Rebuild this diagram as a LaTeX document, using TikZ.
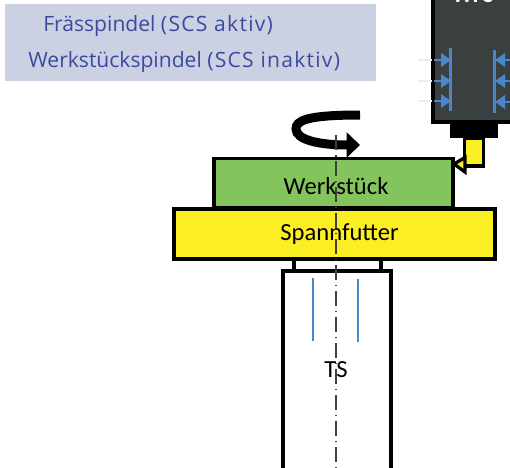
\documentclass[tikz,border=0pt]{standalone}
\usepackage{fontspec}
\setmainfont{Carlito}
\newfontfamily\panelfont{Open Sans}
\newfontfamily\panelwide[LetterSpace=6]{Open Sans}
\usepackage{xcolor}
\usetikzlibrary{calc,arrows.meta}
\definecolor{panelbg}{HTML}{CBD0E3}
\definecolor{paneltext}{HTML}{3B4A9E}
\definecolor{spindle}{HTML}{3A3F3F}
\definecolor{green}{HTML}{84C45C}
\definecolor{yellow}{HTML}{FBEE23}
\definecolor{blue}{HTML}{4A86CC}
\definecolor{faint}{HTML}{E8EFF8}
\tikzset{
  base/.style={draw=black, line width=0.066cm, line join=miter},
  axis/.style={draw=black!75, line width=0.045cm, dash pattern=on 0.3cm off 0.1cm on 0.03cm off 0.09cm},
  bearing/.style={draw=blue, line width=0.045cm},
  ghost/.style={draw=faint, line width=0.04cm},
  tri/.style={fill=blue},
  lab/.style={text=black, font=\fontsize{14}{17}\selectfont, inner sep=0pt},
  labp/.style={text=paneltext, font=\panelfont\fontsize{12}{14}\selectfont, inner sep=0pt, anchor=west},
}
\begin{document}
\begin{tikzpicture}[x=0.02cm,y=-0.02cm]
  \useasboundingbox (0,0) rectangle (510,467);
  \clip (0,0) rectangle (510,467);
  % panel
  \fill[panelbg] (5,4) rectangle (376,81);
  \node[labp] (frs) at (43,26.5) {Frässpindel {\panelwide (SCS aktiv)}};
  \node[labp] (wsp) at (28,62.5) {Werkstückspindel {\panelwide (SCS inaktiv)}};
  % spindle head
  \draw[base,fill=spindle] (433,-5) rectangle (515,122);
  \node[text=white, font=\fontsize{13}{16}\selectfont\bfseries, inner sep=0pt] (wfs) at (473,-5) {WFS};
  \foreach \y in {60,81,101}{
    \draw[ghost] (418,\y) -- (432,\y);
    \draw[bearing] (434,\y) -- (441,\y);
    \fill[tri] (451,\y) -- (441,\y-7) -- (441,\y+7) -- cycle;
  }
  \foreach \y in {60,81,102}{
    \draw[bearing] (505,\y) -- (510,\y);
    \fill[tri] (495,\y) -- (505,\y-7) -- (505,\y+7) -- cycle;
  }
  \draw[bearing] (450.5,48) -- (450.5,111);
  \draw[bearing] (494.5,50) -- (494.5,113);
  \fill[black] (450,121) rectangle (498,138);
  \draw[base,fill=yellow] (464.5,138) rectangle (483.5,166);
  % workpiece and chuck
  \draw[base,fill=green] (214,158.5) rectangle (453,208);
  \draw[base,fill=yellow] (454,164) -- (465,157.5) -- (465,172) -- cycle;
  \draw[base,fill=yellow] (174,209) rectangle (495,259);
  \draw[base,fill=white] (294,259) rectangle (381,270.5);
  \draw[base,fill=white] (283,271) rectangle (391,475);
  \draw[bearing] (313,278) -- (313,341);
  \draw[bearing] (358,279) -- (358,342);
  % rotation arrow
  \draw[line width=0.18cm, -{Triangle[length=0.27cm,width=0.5cm]}]
    (360,115) .. controls (305,115) and (296,121) .. (296,129)
    .. controls (296,140) and (320,145) .. (360,145);
  \draw[axis] (336,135) -- (336,467);
  \node[lab] (wst) at (336,186) {Werkstück};
  \node[lab] (spf) at (339.5,234) {Spannfutter};
  \node[lab] (ts) at (336,370) {TS};
\end{tikzpicture}
\end{document}
